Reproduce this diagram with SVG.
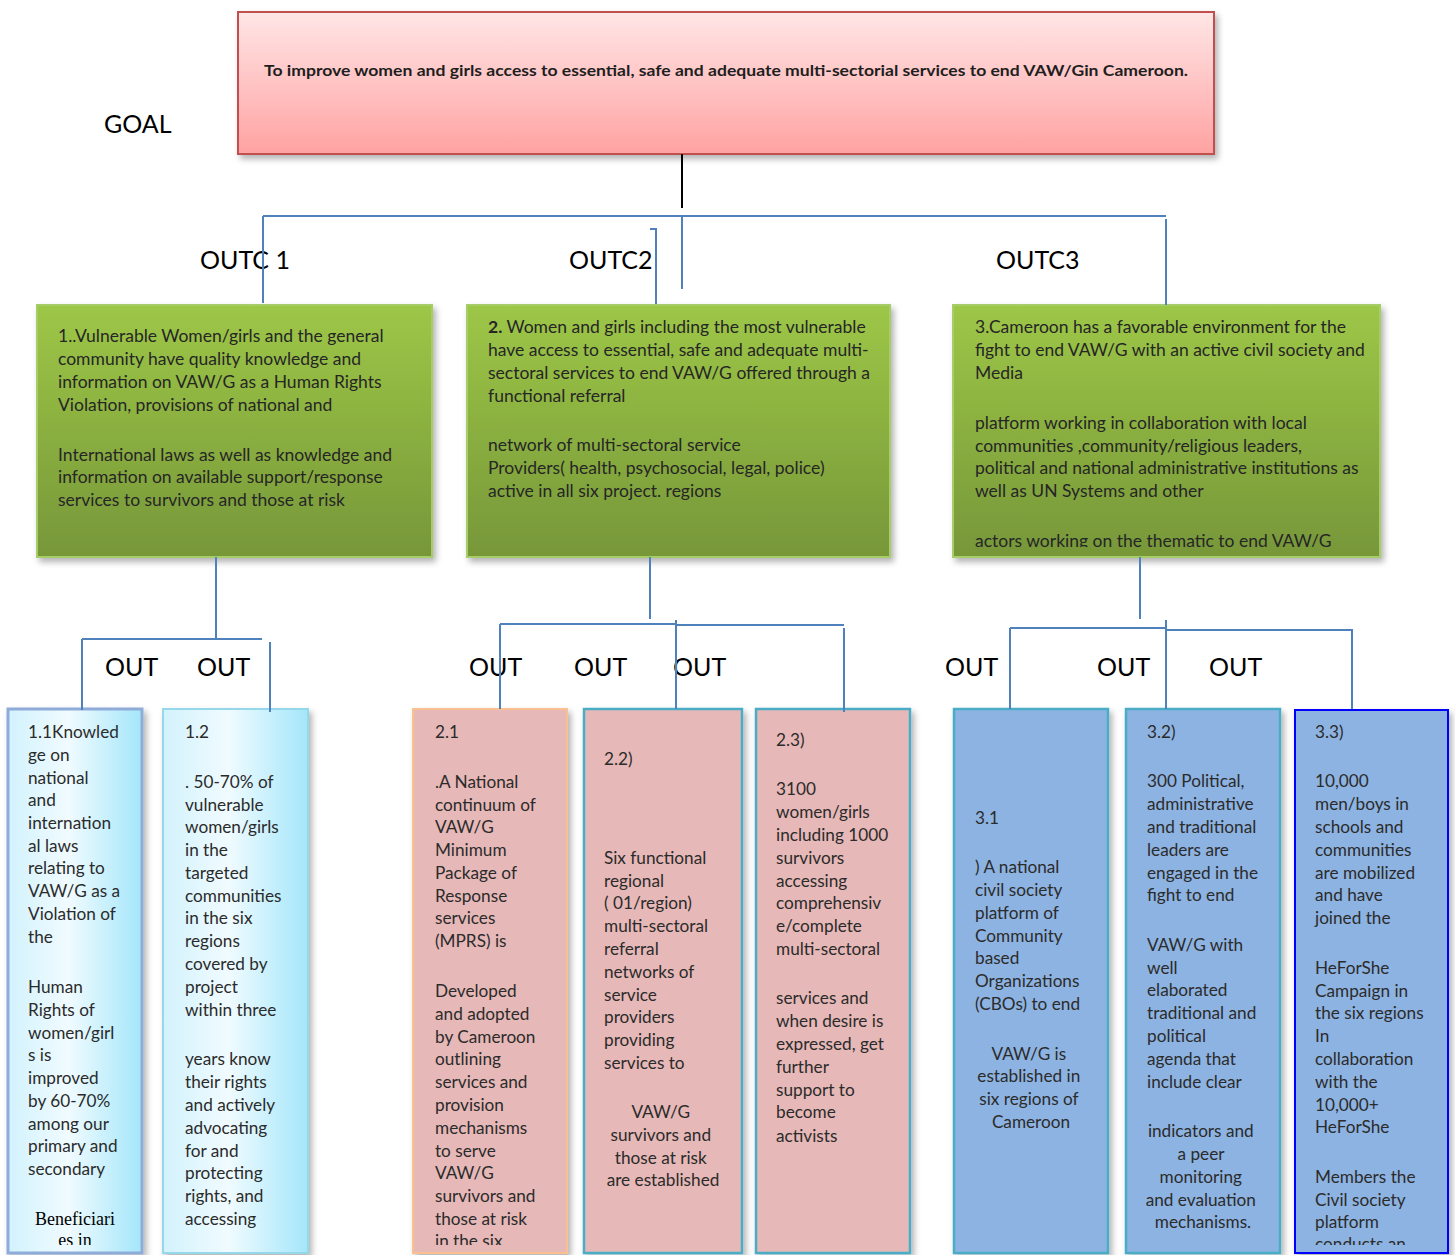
<svg xmlns="http://www.w3.org/2000/svg" width="1455" height="1255" viewBox="0 0 1455 1255">
<defs>
  <linearGradient id="gGoal" x1="0" y1="0" x2="0" y2="1">
    <stop offset="0" stop-color="#FFE6E6"/>
    <stop offset="1" stop-color="#FFA2A2"/>
  </linearGradient>
  <linearGradient id="gGreen" x1="0" y1="0" x2="0" y2="1">
    <stop offset="0" stop-color="#9DC747"/>
    <stop offset="1" stop-color="#779739"/>
  </linearGradient>
  <linearGradient id="gCyan" x1="0" y1="0" x2="1" y2="0">
    <stop offset="0" stop-color="#D2F2FD"/>
    <stop offset="0.45" stop-color="#F0FBFF"/>
    <stop offset="1" stop-color="#A4E6FA"/>
  </linearGradient>
  <filter id="sh" x="-10%" y="-10%" width="130%" height="130%">
    <feDropShadow dx="3" dy="4" stdDeviation="3" flood-color="#000" flood-opacity="0.3"/>
  </filter>
  <clipPath id="cG3"><rect x="953" y="305" width="428" height="242"/></clipPath>
  <clipPath id="cBot"><rect x="0" y="700" width="1455" height="545"/></clipPath>
</defs>
<style>
  .lbl { font-family: Lato, "Liberation Sans", sans-serif; font-size: 25px; fill: #000; }
  .t { font-family: Lato, "Liberation Sans", sans-serif; font-size: 17.2px; fill: #2b2b2b; }
  .tg { font-family: Lato, "Liberation Sans", sans-serif; font-size: 17.5px; fill: #262626; }
  .tc { text-anchor: middle; }
  .goalt { font-family: Lato, "Liberation Sans", sans-serif; font-size: 16px; font-weight: bold; fill: #1e1e1e; }
  .ser { font-family: "Liberation Serif", serif; font-size: 18px; fill: #000; text-anchor: middle; }
  .blue { fill: none; stroke: #4F81BD; stroke-width: 2; }
  .black { fill: none; stroke: #000; stroke-width: 2; }
  .pink { fill: #E6B8B7; }
  .sky { fill: #8DB3E2; }
</style>

<g id="labels">
  <text class="lbl" x="104" y="133">GOAL</text>
  <text class="lbl" x="200" y="269">OUTC 1</text>
  <text class="lbl" x="569" y="269">OUTC2</text>
  <text class="lbl" x="996" y="269">OUTC3</text>
  <text class="lbl" x="105" y="676">OUT</text>
  <text class="lbl" x="197" y="676">OUT</text>
  <text class="lbl" x="469" y="676">OUT</text>
  <text class="lbl" x="574" y="676">OUT</text>
  <text class="lbl" x="673" y="676">OUT</text>
  <text class="lbl" x="945" y="676">OUT</text>
  <text class="lbl" x="1097" y="676">OUT</text>
  <text class="lbl" x="1209" y="676">OUT</text>
</g>

<g id="goal">
  <rect x="238" y="12" width="976" height="142" fill="url(#gGoal)" stroke="#C0504D" stroke-width="2" filter="url(#sh)"/>
  <text class="goalt" x="264" y="76" textLength="924" lengthAdjust="spacingAndGlyphs">To improve women and girls access to essential, safe and adequate multi-sectorial services to end VAW/Gin Cameroon.</text>
</g>

<g id="outcome1">
  <rect x="37" y="305" width="395" height="252" fill="url(#gGreen)" stroke="#A6CD67" stroke-width="2" filter="url(#sh)"/>
  <text class="tg">
    <tspan x="58" y="342">1..Vulnerable Women/girls and the general</tspan>
    <tspan x="58" y="365">community have quality knowledge and</tspan>
    <tspan x="58" y="388">information on VAW/G as a Human Rights</tspan>
    <tspan x="58" y="411">Violation, provisions of national and</tspan>
    <tspan x="58" y="461">International laws as well as knowledge and</tspan>
    <tspan x="58" y="483">information on available support/response</tspan>
    <tspan x="58" y="506">services to survivors and those at risk</tspan>
  </text>
</g>

<g id="outcome2">
  <rect x="467" y="305" width="423" height="252" fill="url(#gGreen)" stroke="#A6CD67" stroke-width="2" filter="url(#sh)"/>
  <text class="tg">
    <tspan x="488" y="333"><tspan font-weight="bold">2.</tspan> Women and girls including the most vulnerable</tspan>
    <tspan x="488" y="356">have access to essential, safe and adequate multi-</tspan>
    <tspan x="488" y="379">sectoral services to end VAW/G offered through a</tspan>
    <tspan x="488" y="402">functional referral</tspan>
    <tspan x="488" y="451">network of multi-sectoral service</tspan>
    <tspan x="488" y="474">Providers( health, psychosocial, legal, police)</tspan>
    <tspan x="488" y="497">active in all six project. regions</tspan>
  </text>
</g>

<g id="outcome3">
  <rect x="953" y="305" width="427" height="252" fill="url(#gGreen)" stroke="#A6CD67" stroke-width="2" filter="url(#sh)"/>
  <text class="tg" clip-path="url(#cG3)">
    <tspan x="975" y="333">3.Cameroon has a favorable environment for the</tspan>
    <tspan x="975" y="356">fight to end VAW/G with an active civil society and</tspan>
    <tspan x="975" y="379">Media</tspan>
    <tspan x="975" y="429">platform working in collaboration with local</tspan>
    <tspan x="975" y="452">communities ,community/religious leaders,</tspan>
    <tspan x="975" y="474">political and national administrative institutions as</tspan>
    <tspan x="975" y="497">well as UN Systems and other</tspan>
    <tspan x="975" y="547">actors working on the thematic to end VAW/G</tspan>
  </text>
</g>

<g id="output1_1">
  <rect x="8" y="709" width="134" height="544" fill="url(#gCyan)" stroke="#8FACD8" stroke-width="3" filter="url(#sh)"/>
  <g clip-path="url(#cBot)">
  <text class="t">
    <tspan x="28" y="738">1.1Knowled</tspan>
    <tspan x="28" y="761">ge on</tspan>
    <tspan x="28" y="784">national</tspan>
    <tspan x="28" y="806">and</tspan>
    <tspan x="28" y="829">internation</tspan>
    <tspan x="28" y="852">al laws</tspan>
    <tspan x="28" y="874">relating to</tspan>
    <tspan x="28" y="897">VAW/G as a</tspan>
    <tspan x="28" y="920">Violation of</tspan>
    <tspan x="28" y="943">the</tspan>
    <tspan x="28" y="993">Human</tspan>
    <tspan x="28" y="1016">Rights of</tspan>
    <tspan x="28" y="1039">women/girl</tspan>
    <tspan x="28" y="1061">s is</tspan>
    <tspan x="28" y="1084">improved</tspan>
    <tspan x="28" y="1107">by 60-70%</tspan>
    <tspan x="28" y="1130">among our</tspan>
    <tspan x="28" y="1152">primary and</tspan>
    <tspan x="28" y="1175">secondary</tspan>
  </text>
  <text class="ser"><tspan x="75" y="1225">Beneficiari</tspan><tspan x="75" y="1245.5">es in</tspan></text>
  </g>
</g>

<g id="output1_2">
  <rect x="163" y="709" width="145" height="544" fill="url(#gCyan)" stroke="#94D8EA" stroke-width="2" filter="url(#sh)"/>
  <text class="t" clip-path="url(#cBot)">
    <tspan x="185" y="738">1.2</tspan>
    <tspan x="185" y="788">. 50-70% of</tspan>
    <tspan x="185" y="811">vulnerable</tspan>
    <tspan x="185" y="833">women/girls</tspan>
    <tspan x="185" y="856">in the</tspan>
    <tspan x="185" y="879">targeted</tspan>
    <tspan x="185" y="902">communities</tspan>
    <tspan x="185" y="924">in the six</tspan>
    <tspan x="185" y="947">regions</tspan>
    <tspan x="185" y="970">covered by</tspan>
    <tspan x="185" y="993">project</tspan>
    <tspan x="185" y="1016">within three</tspan>
    <tspan x="185" y="1065">years know</tspan>
    <tspan x="185" y="1088">their rights</tspan>
    <tspan x="185" y="1111">and actively</tspan>
    <tspan x="185" y="1134">advocating</tspan>
    <tspan x="185" y="1157">for and</tspan>
    <tspan x="185" y="1179">protecting</tspan>
    <tspan x="185" y="1202">rights, and</tspan>
    <tspan x="185" y="1225">accessing</tspan>
  </text>
</g>

<g id="output2_1">
  <rect x="413" y="709" width="154" height="544" class="pink" stroke="#FAC090" stroke-width="2" filter="url(#sh)"/>
  <text class="t" clip-path="url(#cBot)">
    <tspan x="435" y="738">2.1</tspan>
    <tspan x="435" y="788">.A National</tspan>
    <tspan x="435" y="811">continuum of</tspan>
    <tspan x="435" y="833">VAW/G</tspan>
    <tspan x="435" y="856">Minimum</tspan>
    <tspan x="435" y="879">Package of</tspan>
    <tspan x="435" y="902">Response</tspan>
    <tspan x="435" y="924">services</tspan>
    <tspan x="435" y="947">(MPRS) is</tspan>
    <tspan x="435" y="997">Developed</tspan>
    <tspan x="435" y="1020">and adopted</tspan>
    <tspan x="435" y="1043">by Cameroon</tspan>
    <tspan x="435" y="1065">outlining</tspan>
    <tspan x="435" y="1088">services and</tspan>
    <tspan x="435" y="1111">provision</tspan>
    <tspan x="435" y="1134">mechanisms</tspan>
    <tspan x="435" y="1157">to serve</tspan>
    <tspan x="435" y="1179">VAW/G</tspan>
    <tspan x="435" y="1202">survivors and</tspan>
    <tspan x="435" y="1225">those at risk</tspan>
    <tspan x="435" y="1247">in the six</tspan>
  </text>
</g>

<g id="output2_2">
  <rect x="584" y="709" width="158" height="544" class="pink" stroke="#4BACC6" stroke-width="2.5" filter="url(#sh)"/>
  <text class="t">
    <tspan x="604" y="765">2.2)</tspan>
    <tspan x="604" y="864">Six functional</tspan>
    <tspan x="604" y="887">regional</tspan>
    <tspan x="604" y="909">( 01/region)</tspan>
    <tspan x="604" y="932">multi-sectoral</tspan>
    <tspan x="604" y="955">referral</tspan>
    <tspan x="604" y="978">networks of</tspan>
    <tspan x="604" y="1001">service</tspan>
    <tspan x="604" y="1023">providers</tspan>
    <tspan x="604" y="1046">providing</tspan>
    <tspan x="604" y="1069">services to</tspan>
  </text>
  <text class="t tc">
    <tspan x="663" y="1118">VAW/G</tspan>
    <tspan x="663" y="1141">survivors and</tspan>
    <tspan x="663" y="1164">those at risk</tspan>
    <tspan x="663" y="1186">are established</tspan>
  </text>
</g>

<g id="output2_3">
  <rect x="756" y="709" width="154" height="544" class="pink" stroke="#4BACC6" stroke-width="2.5" filter="url(#sh)"/>
  <text class="t">
    <tspan x="776" y="746">2.3)</tspan>
    <tspan x="776" y="795">3100</tspan>
    <tspan x="776" y="818">women/girls</tspan>
    <tspan x="776" y="841">including 1000</tspan>
    <tspan x="776" y="864">survivors</tspan>
    <tspan x="776" y="887">accessing</tspan>
    <tspan x="776" y="909">comprehensiv</tspan>
    <tspan x="776" y="932">e/complete</tspan>
    <tspan x="776" y="955">multi-sectoral</tspan>
    <tspan x="776" y="1004">services and</tspan>
    <tspan x="776" y="1027">when desire is</tspan>
    <tspan x="776" y="1050">expressed, get</tspan>
    <tspan x="776" y="1073">further</tspan>
    <tspan x="776" y="1096">support to</tspan>
    <tspan x="776" y="1118">become</tspan>
    <tspan x="776" y="1142">activists</tspan>
  </text>
</g>

<g id="output3_1">
  <rect x="954" y="709" width="154" height="544" class="sky" stroke="#4BACC6" stroke-width="2.5" filter="url(#sh)"/>
  <text class="t">
    <tspan x="975" y="824">3.1</tspan>
    <tspan x="975" y="873">) A national</tspan>
    <tspan x="975" y="896">civil society</tspan>
    <tspan x="975" y="919">platform of</tspan>
    <tspan x="975" y="942">Community</tspan>
    <tspan x="975" y="964">based</tspan>
    <tspan x="975" y="987">Organizations</tspan>
    <tspan x="975" y="1010">(CBOs) to end</tspan>
  </text>
  <text class="t tc">
    <tspan x="1031" y="1060">VAW/G is</tspan>
    <tspan x="1031" y="1082">established in</tspan>
    <tspan x="1031" y="1105">six regions of</tspan>
    <tspan x="1031" y="1128">Cameroon</tspan>
  </text>
</g>

<g id="output3_2">
  <rect x="1126" y="709" width="154" height="544" class="sky" stroke="#4BACC6" stroke-width="2.5" filter="url(#sh)"/>
  <text class="t">
    <tspan x="1147" y="738">3.2)</tspan>
    <tspan x="1147" y="787">300 Political,</tspan>
    <tspan x="1147" y="810">administrative</tspan>
    <tspan x="1147" y="833">and traditional</tspan>
    <tspan x="1147" y="856">leaders are</tspan>
    <tspan x="1147" y="879">engaged in the</tspan>
    <tspan x="1147" y="901">fight to end</tspan>
    <tspan x="1147" y="951">VAW/G with</tspan>
    <tspan x="1147" y="974">well</tspan>
    <tspan x="1147" y="996">elaborated</tspan>
    <tspan x="1147" y="1019">traditional and</tspan>
    <tspan x="1147" y="1042">political</tspan>
    <tspan x="1147" y="1065">agenda that</tspan>
    <tspan x="1147" y="1088">include clear</tspan>
  </text>
  <text class="t tc">
    <tspan x="1203" y="1137">indicators and</tspan>
    <tspan x="1203" y="1160">a peer</tspan>
    <tspan x="1203" y="1183">monitoring</tspan>
    <tspan x="1203" y="1206">and evaluation</tspan>
    <tspan x="1203" y="1228">mechanisms.</tspan>
  </text>
</g>

<g id="output3_3">
  <rect x="1295" y="710" width="153" height="543" class="sky" stroke="#0000FF" stroke-width="2" filter="url(#sh)"/>
  <text class="t" clip-path="url(#cBot)">
    <tspan x="1315" y="738">3.3)</tspan>
    <tspan x="1315" y="787">10,000</tspan>
    <tspan x="1315" y="810">men/boys in</tspan>
    <tspan x="1315" y="833">schools and</tspan>
    <tspan x="1315" y="856">communities</tspan>
    <tspan x="1315" y="879">are mobilized</tspan>
    <tspan x="1315" y="901">and have</tspan>
    <tspan x="1315" y="924">joined the</tspan>
    <tspan x="1315" y="974">HeForShe</tspan>
    <tspan x="1315" y="997">Campaign in</tspan>
    <tspan x="1315" y="1019">the six regions</tspan>
    <tspan x="1315" y="1042">In</tspan>
    <tspan x="1315" y="1065">collaboration</tspan>
    <tspan x="1315" y="1088">with the</tspan>
    <tspan x="1315" y="1111">10,000+</tspan>
    <tspan x="1315" y="1133">HeForShe</tspan>
    <tspan x="1315" y="1183">Members the</tspan>
    <tspan x="1315" y="1206">Civil society</tspan>
    <tspan x="1315" y="1228">platform</tspan>
    <tspan x="1315" y="1250">conducts an</tspan>
  </text>
</g>

<g id="connectors">
  <path class="black" d="M682 154 V208"/>
  <path class="blue" d="M263 216 H1166 M263 216 V303 M682 216 V289 M650 229 H656 V304 M1166 219 V305"/>
  <path class="blue" d="M216 557 V639 M82 639 H262 M82 639 V710 M270 642 V712"/>
  <path class="blue" d="M650 557 V619 M500 624 H676 M676 625 H844 M500 624 V709 M676 620 V709 M844 628 V712"/>
  <path class="blue" d="M1140 557 V619 M1010 628 H1166 M1166 630 H1353 M1010 628 V709 M1166 620 V709 M1352 630 V709"/>
</g>
</svg>
